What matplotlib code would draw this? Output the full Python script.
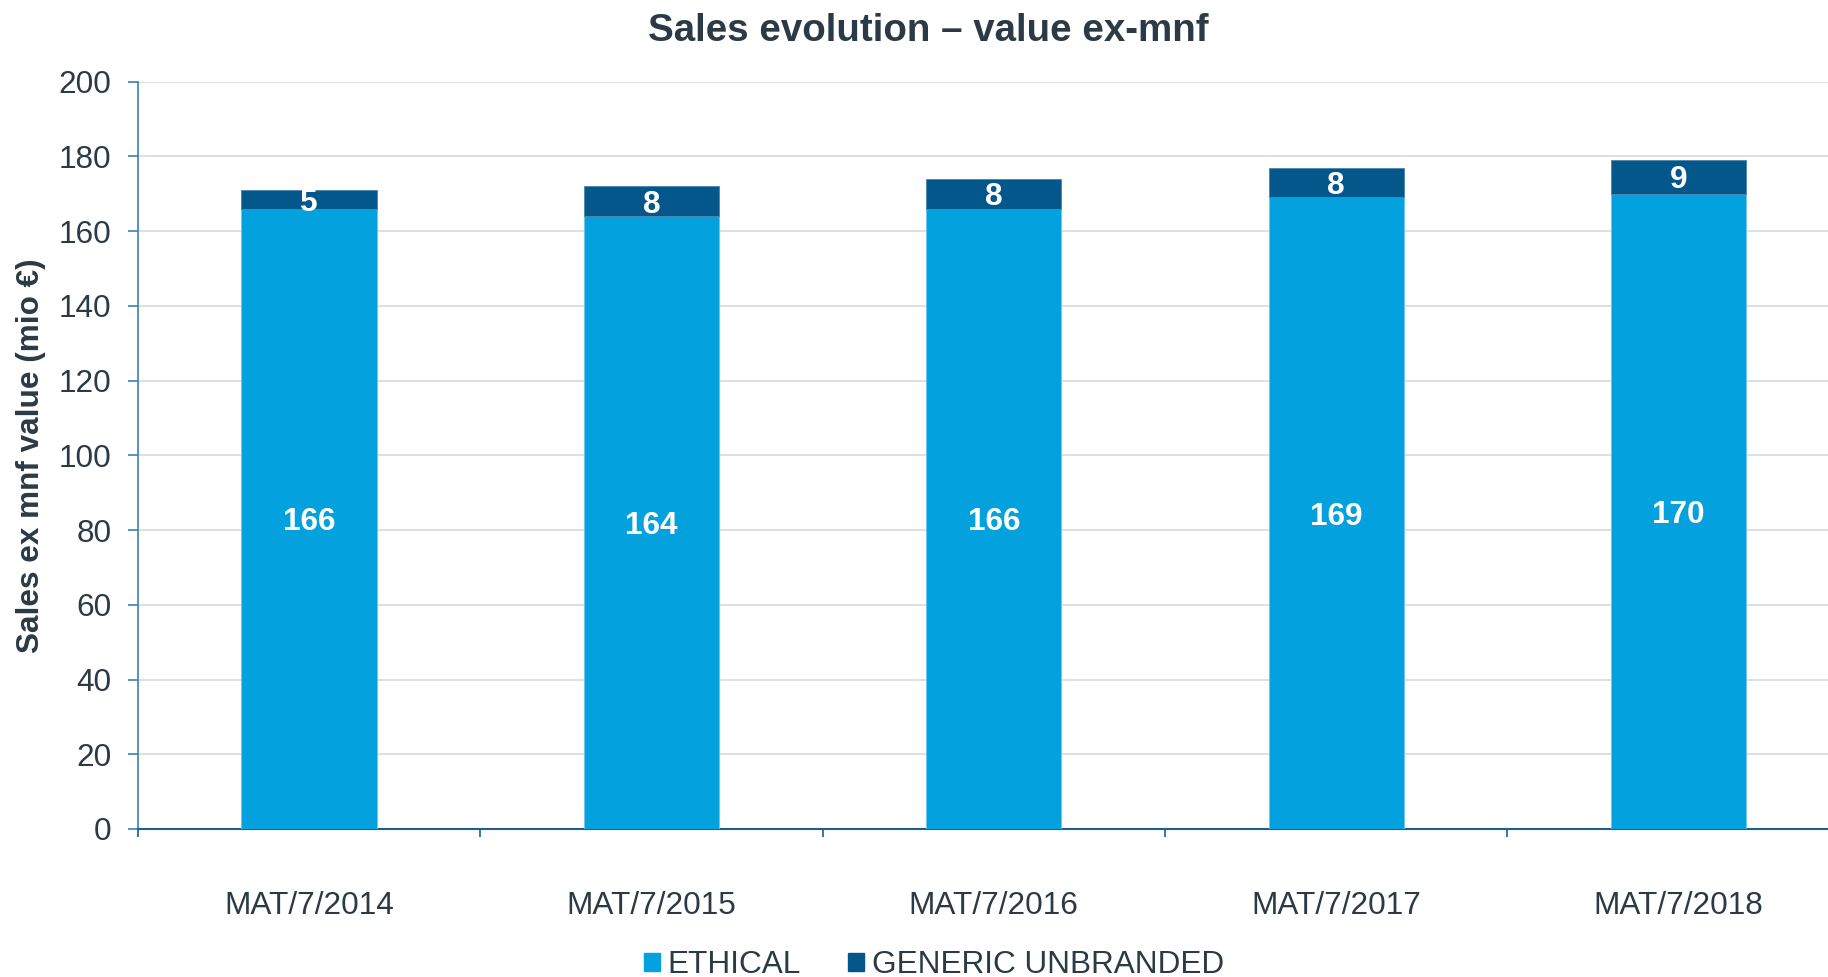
import numpy as np
import matplotlib
matplotlib.use("Agg")
import matplotlib.pyplot as plt
from matplotlib.patches import Patch

plt.rcParams["font.family"] = ["Liberation Sans", "DejaVu Sans"]

# data
categories = ["MAT/7/2014", "MAT/7/2015", "MAT/7/2016", "MAT/7/2017", "MAT/7/2018"]
ethical = [166, 164, 166, 169, 170]
generic = [5, 8, 8, 8, 9]
series_names = ["ETHICAL", "GENERIC UNBRANDED"]

C_ETH = "#03a2df"
C_GEN = "#03578a"
C_TXT = "#2b3a44"
FS = 22.7

fig = plt.figure(figsize=(18.28, 9.77), dpi=100)
ax = fig.add_axes([0.0753, 0.1515, 1.012 - 0.0753, 0.9165 - 0.1515])

x = np.arange(len(categories))
w = 0.395
ax.bar(x, ethical, w, color=C_ETH, edgecolor="#6cc6ee", lw=0.6, zorder=3)
ax.bar(x, generic, w, bottom=ethical, color=C_GEN, edgecolor="#4a86ad", lw=0.6, zorder=3)

for xi, e, g in zip(x, ethical, generic):
    ax.text(xi, e / 2, f"{e}", ha="center", va="center_baseline", color="white",
            fontsize=FS, fontweight="bold", zorder=4)
    ax.text(xi, e + g / 2, f"{g}", ha="center", va="center_baseline", color="white",
            fontsize=FS, fontweight="bold", zorder=4)

ax.set_xlim(-0.5, len(categories) - 0.5)
ax.set_ylim(0, 200)
ax.set_yticks(np.arange(0, 201, 20))
ax.grid(axis="y", color="#d9d9d9", lw=1.2, zorder=0)
ax.set_axisbelow(True)

for s in ["top", "right"]:
    ax.spines[s].set_visible(False)
ax.spines["left"].set_color("#3d80b3")
ax.spines["left"].set_linewidth(1.2)
ax.spines["bottom"].set_color("#1d5f8e")
ax.spines["bottom"].set_linewidth(1.5)

ax.set_xticks(x)
ax.set_xticklabels(categories)
ax.set_xticks(np.arange(-0.5, len(categories), 1.0), minor=True)
ax.tick_params(axis="x", which="major", length=0, pad=45, labelsize=FS, labelcolor=C_TXT)
ax.tick_params(axis="x", which="minor", length=6, width=1.2, color="#1d5f8e", direction="out")
ax.tick_params(axis="y", length=7, width=1.2, color="#3d80b3", pad=12, labelsize=FS, labelcolor=C_TXT)

fig.text(0.508, 0.958, "Sales evolution \u2013 value ex-mnf", ha="center", va="baseline",
         fontsize=27.7, fontweight="bold", color=C_TXT)
fig.text(0.0172, 0.534, "Sales ex mnf value (mio \u20ac)", ha="center", va="center",
         rotation=90, fontsize=FS, fontweight="bold", color=C_TXT)

handles = [Patch(color=C_ETH), Patch(color=C_GEN)]
fig.legend(handles, series_names, loc="center", bbox_to_anchor=(0.511, 0.012),
           ncol=2, frameon=False, fontsize=FS, labelcolor=C_TXT,
           handlelength=0.5, handleheight=0.5, handletextpad=0.25,
           columnspacing=1.5, borderpad=0)

fig.savefig("out.png", dpi=100)
